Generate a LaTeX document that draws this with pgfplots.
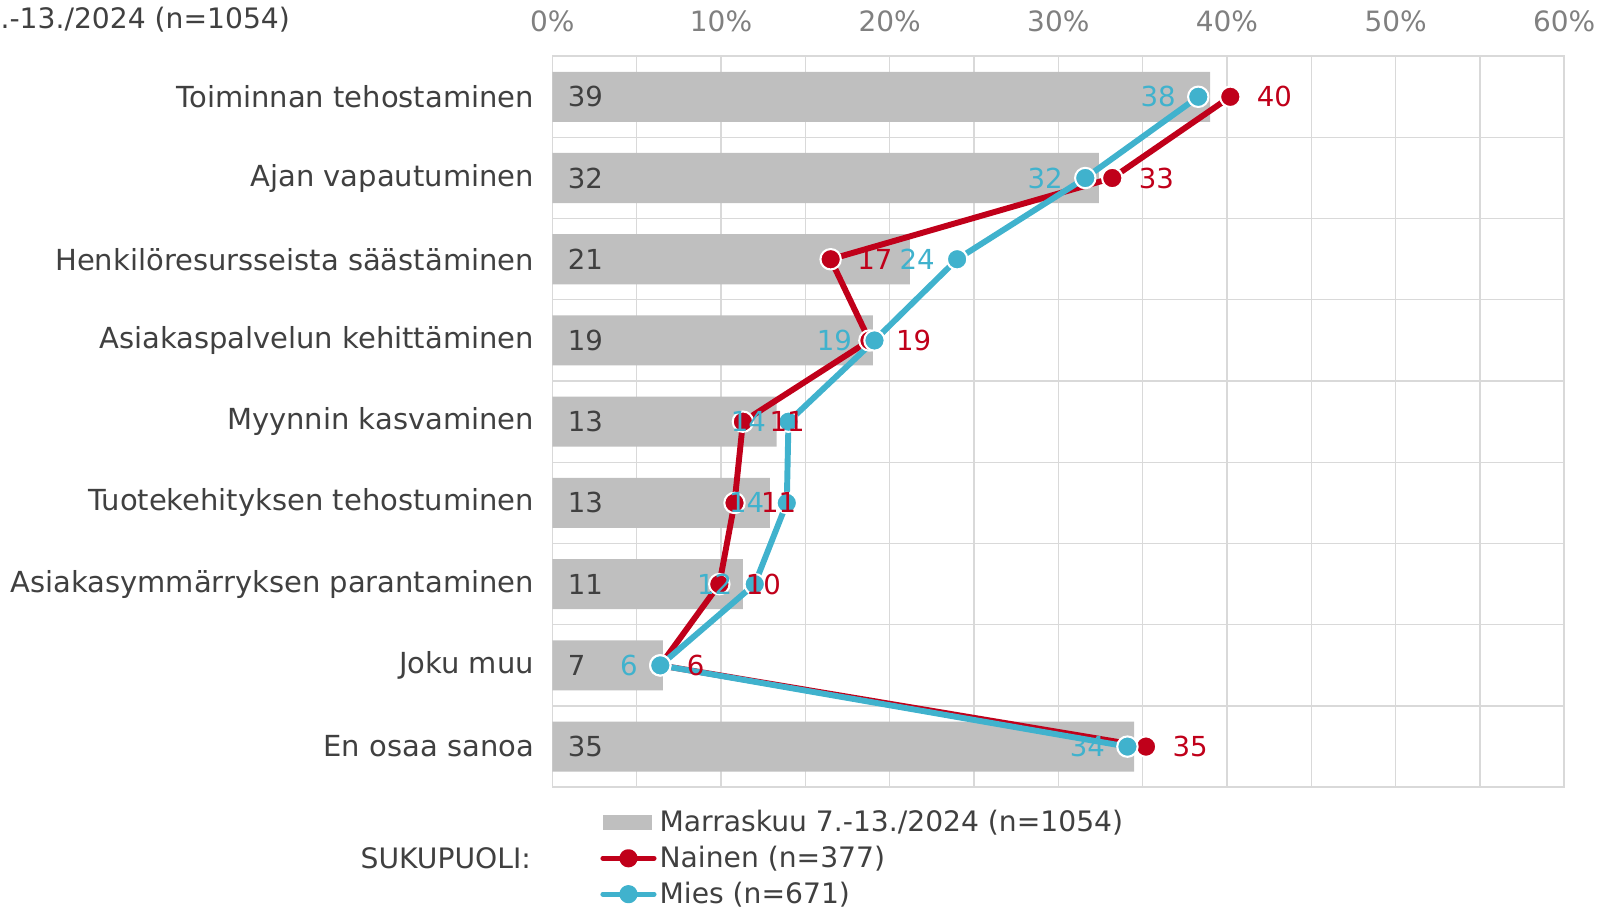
\documentclass[border=0pt]{standalone}
\usepackage{pgfplots}
\pgfplotsset{compat=1.18}
\usepackage{fontspec}
\setmainfont{DejaVu Sans}
\definecolor{barc}{HTML}{BFBFBF}
\definecolor{redc}{HTML}{C0001A}
\definecolor{bluec}{HTML}{40B2CD}
\definecolor{gridc}{HTML}{D9D9D9}
\definecolor{txt}{HTML}{404040}
\definecolor{tickc}{HTML}{808080}
\begin{document}
\begin{tikzpicture}[font=\fontsize{13.5pt}{16pt}\selectfont]
\path[use as bounding box] (-270.5pt,-60.5pt) rectangle (513.5pt,385.5pt);
\begin{axis}[
  at={(0,0)}, anchor=south west,
  scale only axis, width=495.5pt, height=358pt,
  xmin=0, xmax=60, ymin=-0.5, ymax=8.5, y dir=reverse,
  xtick={0,10,...,60}, xticklabels={0\%,10\%,20\%,30\%,40\%,50\%,60\%},
  xticklabel pos=top,
  minor xtick={5,15,...,55},
  xmajorgrids, xminorgrids,
  ytick={0,...,8},
  yticklabels={Toiminnan tehostaminen,Ajan vapautuminen,Henkilöresursseista säästäminen,Asiakaspalvelun kehittäminen,Myynnin kasvaminen,Tuotekehityksen tehostuminen,Asiakasymmärryksen parantaminen,Joku muu,En osaa sanoa},
  minor ytick={0.5,1.5,...,7.5},
  yminorgrids,
  major grid style={gridc, line width=0.6pt},
  minor grid style={gridc, line width=0.6pt},
  axis line style={gridc, line width=0.8pt},
  major tick length=0pt, minor tick length=0pt,
  tick style={draw=none},
  xticklabel style={text=tickc, yshift=8.5pt, font=\fontsize{13.7pt}{16pt}\selectfont},
  yticklabel style={text=txt, xshift=-5.5pt, font=\fontsize{14.2pt}{17pt}\selectfont},
  legend style={at={(0.041,-0.021)}, anchor=north west, draw=none, fill=none,
    text=txt, font=\fontsize{13.8pt}{16pt}\selectfont, row sep=2.6pt,
    nodes={inner sep=1.5pt}},
  legend cell align=left,
  clip=false,
]
\addplot[xbar, bar width=24.5pt, fill=barc, draw=none,
  legend image code/.code={\fill[barc] (0pt,-3.5pt) rectangle (24pt,3.5pt);}]
  coordinates {(39.0,0) (32.4,1) (21.2,2) (19.0,3) (13.3,4) (12.9,5) (11.3,6) (6.55,7) (34.5,8)};
\addlegendentry{Marraskuu 7.-13./2024 (n=1054)}
\addplot[redc, line width=2.9pt, line join=round, mark=*, mark size=5pt,
  mark options={fill=redc, draw=white, line width=1pt},
  legend image code/.code={\draw[redc, line width=2.5pt, line cap=round] (0pt,0pt) -- (25pt,0pt); \fill[redc] (12.5pt,0pt) circle (3pt);}]
  coordinates {(40.2,0) (33.2,1) (16.5,2) (18.8,3) (11.3,4) (10.8,5) (9.9,6) (6.4,7) (35.2,8)};
\addlegendentry{Nainen (n=377)}
\addplot[bluec, line width=2.9pt, line join=round, mark=*, mark size=5pt,
  mark options={fill=bluec, draw=white, line width=1pt},
  legend image code/.code={\draw[bluec, line width=2.5pt, line cap=round] (0pt,0pt) -- (25pt,0pt); \fill[bluec] (12.5pt,0pt) circle (3pt);}]
  coordinates {(38.3,0) (31.6,1) (24.0,2) (19.1,3) (14.0,4) (13.9,5) (12.0,6) (6.4,7) (34.1,8)};
\addlegendentry{Mies (n=671)}
% bar labels
\addplot[forget plot, draw=none, mark=none, nodes near coords, point meta=explicit symbolic,
  every node near coord/.append style={anchor=west, text=txt, xshift=4pt}]
  coordinates {(0,0)[39] (0,1)[32] (0,2)[21] (0,3)[19] (0,4)[13] (0,5)[13] (0,6)[11] (0,7)[7] (0,8)[35]};
% red labels
\addplot[forget plot, draw=none, mark=none, nodes near coords, point meta=explicit symbolic,
  every node near coord/.append style={anchor=west, text=redc, xshift=9.5pt}]
  coordinates {(40.2,0)[40] (33.2,1)[33] (16.5,2)[17] (18.8,3)[19] (11.3,4)[11] (10.8,5)[11] (9.9,6)[10] (6.4,7)[6] (35.2,8)[35]};
% blue labels
\addplot[forget plot, draw=none, mark=none, nodes near coords, point meta=explicit symbolic,
  every node near coord/.append style={anchor=east, text=bluec, xshift=-7.5pt}]
  coordinates {(38.3,0)[38] (31.6,1)[32] (24.0,2)[24] (19.1,3)[19] (14.0,4)[14] (13.9,5)[14] (12.0,6)[12] (6.4,7)[6] (34.1,8)[34]};
\end{axis}
\node[anchor=base east, text=txt, font=\fontsize{13.8pt}{16pt}\selectfont] at (-125pt,371.5pt) {Marraskuu 7.-13./2024 (n=1054)};
\node[anchor=base east, text=txt, font=\fontsize{13.8pt}{16pt}\selectfont] at (-7pt,-40pt) {SUKUPUOLI:};
\end{tikzpicture}
\end{document}
